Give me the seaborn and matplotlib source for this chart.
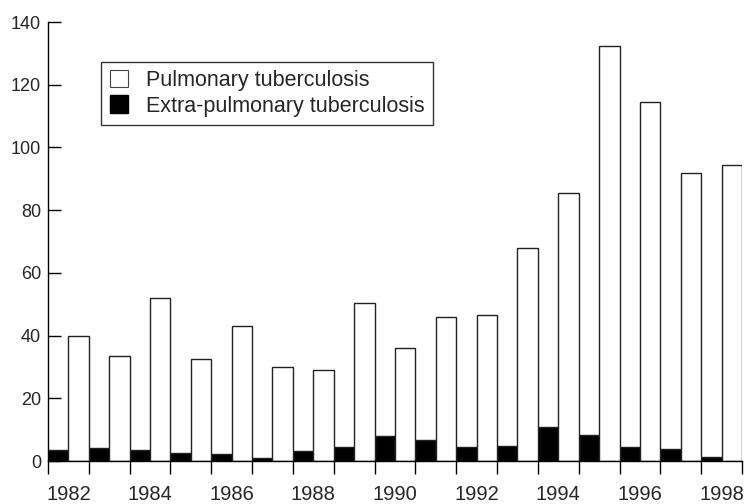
import matplotlib
matplotlib.use("Agg")
import matplotlib.pyplot as plt
import numpy as np
import pandas as pd
import seaborn as sns
from matplotlib.patches import Patch

years = list(range(1982, 1999))
pulmonary = [40, 33.5, 52, 32.5, 43, 30, 29, 50.5, 36, 46, 46.5, 68, 85.5, 132.5, 114.5, 92, 94.5]
extra_pulmonary = [3.5, 4.3, 3.4, 2.4, 2.3, 0.9, 3.3, 4.5, 7.9, 6.8, 4.4, 4.7, 11, 8.2, 4.4, 3.7, 1.4]
year_labels = [str(y) for y in years[::2]]
y_ticks = [0, 20, 40, 60, 80, 100, 120, 140]

PULM = "Pulmonary tuberculosis"
EXTRA = "Extra-pulmonary tuberculosis"

df = pd.DataFrame({
    "year": years * 2,
    "cases": extra_pulmonary + pulmonary,
    "type": [EXTRA] * len(years) + [PULM] * len(years),
})

sns.set_theme(style="ticks")
plt.rcParams["font.family"] = ["Liberation Sans", "DejaVu Sans"]

fig = plt.figure(figsize=(7.46, 5.04), dpi=100)
ax = fig.add_axes([0.0643, 0.0853, 0.9303, 0.8710])

sns.barplot(data=df, x="year", y="cases", hue="type", hue_order=[EXTRA, PULM],
            palette={EXTRA: "black", PULM: "white"}, width=1.0, dodge=True,
            edgecolor="#222222", linewidth=1.0, saturation=1, legend=False, ax=ax)

n = len(years)
ax.set_xlim(-0.5, n - 0.5)
ax.set_ylim(0, 140)
ax.set_yticks(y_ticks)
ax.set_yticklabels([str(v) for v in y_ticks], fontsize=13)

# ticks at the group edges, labels at the group centres
ax.set_xticks(np.arange(-0.5, n, 1.0))
ax.set_xticklabels([])
ax.set_xticks(np.arange(0, n, 2), labels=year_labels, minor=True)
ax.tick_params(axis="x", which="major", direction="out", length=9.5, width=1, color="black")
ax.tick_params(axis="x", which="minor", length=0, pad=17, labelsize=14.5)
ax.tick_params(axis="y", direction="in", length=9.5, width=1, color="black", pad=5)

ax.set_xlabel("")
ax.set_ylabel("")
sns.despine(ax=ax)
for s in ["left", "bottom"]:
    ax.spines[s].set_color("black")
    ax.spines[s].set_linewidth(1)

handles = [Patch(facecolor="white", edgecolor="#444444", linewidth=0.8),
           Patch(facecolor="black", edgecolor="black")]
leg = ax.legend(handles, [PULM, EXTRA], loc="upper left", bbox_to_anchor=(0.077, 0.91),
                fontsize=15.5, frameon=True, fancybox=False, shadow=False,
                handlelength=0.85, handleheight=0.85, handletextpad=0.8,
                labelspacing=0.2, borderpad=0.4, borderaxespad=0)
leg.get_frame().set_edgecolor("black")
leg.get_frame().set_linewidth(1)

fig.savefig("out.png", dpi=100)
